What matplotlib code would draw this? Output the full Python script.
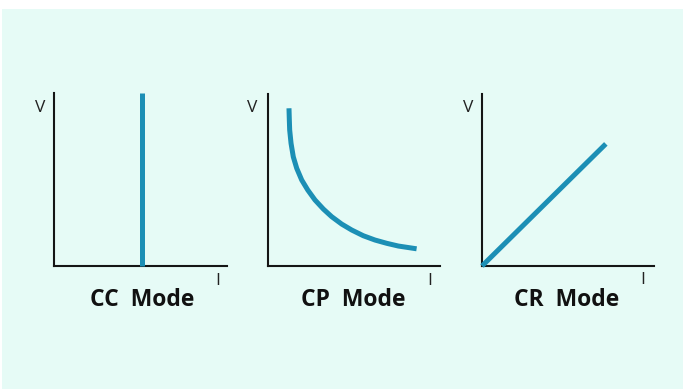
import matplotlib
matplotlib.use("Agg")
import matplotlib.pyplot as plt
from matplotlib.patches import Rectangle

W, H = 699, 389

# panel titles and axis labels
modes = ["CC  Mode", "CP  Mode", "CR  Mode"]
v_label = "V"
i_label = "I"

# CC mode: vertical line at constant current
cc_i = [5.1, 5.1]
cc_v = [0.0, 10.0]

# CP mode: hyperbola
cp_i = [1.22, 1.24, 1.26, 1.34, 1.47, 1.67, 1.96, 2.31, 2.73,
        3.22, 3.70, 4.28, 4.87, 5.54, 6.22, 6.90, 7.58, 8.64]
cp_v = [9.17, 8.49, 7.91, 7.13, 6.35, 5.68, 5.00, 4.42, 3.84,
        3.31, 2.87, 2.44, 2.09, 1.76, 1.51, 1.32, 1.16, 1.00]

# CR mode: straight line through the origin
cr_i = [0.0, 7.2]
cr_v = [0.0, 7.1]

curves = [(cc_i, cc_v), (cp_i, cp_v), (cr_i, cr_v)]

bg_color = "#e6fbf6"
line_color = "#1c8fb5"
axis_color = "#151515"
font = ["Open Sans", "DejaVu Sans"]


def fx(x):
    return x / W


def fy(y):
    return 1 - y / H


fig = plt.figure(figsize=(W / 100, H / 100), dpi=100)
fig.patch.set_facecolor("white")
fig.patches.append(Rectangle((fx(2), fy(389)), fx(683) - fx(2), fy(9) - fy(389),
                             transform=fig.transFigure, facecolor=bg_color,
                             edgecolor="none", zorder=-5))

# axes boxes in pixels: left, right, top, bottom
boxes = [(54, 227, 93, 266), (268, 440, 94, 266), (482, 654, 94, 266)]
v_pos = [(40, 107.5), (252.5, 107.5), (468.5, 107.5)]
i_pos = [(218, 281), (430, 281), (643, 280)]
title_pos = [(141.7, 299.5), (353.3, 300), (566.5, 299.5)]

for k in range(3):
    l, r, t, b = boxes[k]
    ax = fig.add_axes([fx(l), fy(b), fx(r) - fx(l), fy(t) - fy(b)], zorder=2)
    ax.patch.set_visible(False)
    ax.set_xlim(0, 10)
    ax.set_ylim(0, 10)
    for s in ["top", "right"]:
        ax.spines[s].set_visible(False)
    for s in ["left", "bottom"]:
        ax.spines[s].set_color(axis_color)
        ax.spines[s].set_linewidth(1.5)
    ax.set_xticks([])
    ax.set_yticks([])
    xs, ys = curves[k]
    ax.plot(xs, ys, color=line_color, linewidth=3.6, solid_capstyle="butt",
            clip_on=False, zorder=3)

    fig.text(fx(v_pos[k][0]), fy(v_pos[k][1]), v_label, ha="center", va="center",
             fontsize=12.5, family=font, color="#222222")
    fig.text(fx(i_pos[k][0]), fy(i_pos[k][1]), i_label, ha="center", va="center",
             fontsize=12.5, family=font, color="#222222")
    fig.text(fx(title_pos[k][0]), fy(title_pos[k][1]), modes[k], ha="center", va="center",
             fontsize=16.5, family=font, fontweight="bold", color="#111111")

fig.savefig("out.png", dpi=100)
